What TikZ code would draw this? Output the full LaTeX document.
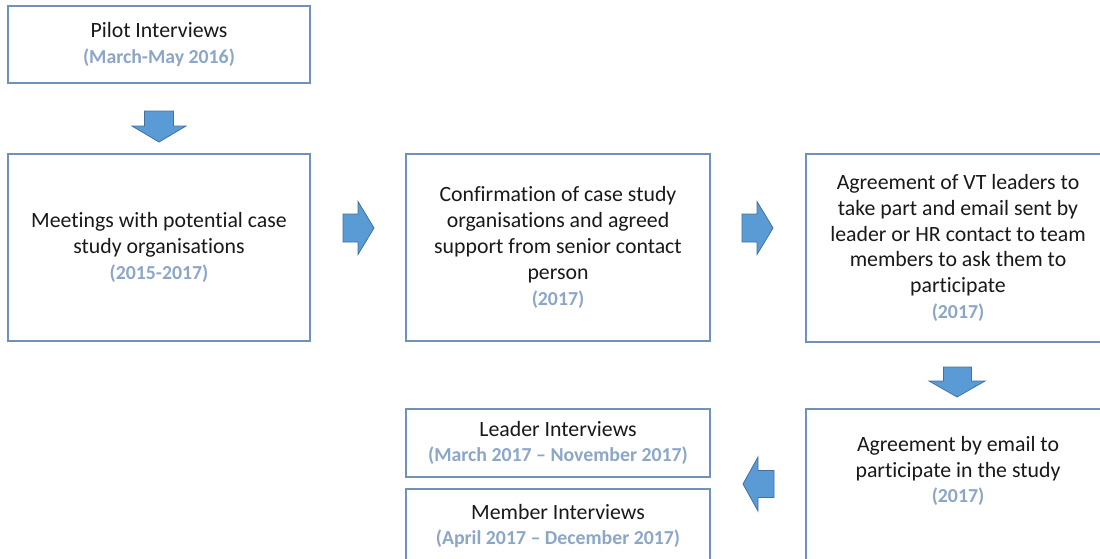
\documentclass[tikz,border=0pt]{standalone}
\usepackage{fontspec}
\setmainfont{Carlito}[Ligatures={NoCommon}]
\definecolor{boxblue}{RGB}{110,145,190}
\definecolor{datecol}{RGB}{140,166,200}
\definecolor{ink}{RGB}{25,25,25}
\definecolor{arrowfill}{RGB}{91,155,213}
\definecolor{arrowline}{RGB}{65,113,156}
\newcommand\dates[1]{{\fontsize{19.8}{25.8}\selectfont\bfseries\color{datecol}#1}}
\begin{document}
\begin{tikzpicture}[x=1pt,y=-1pt,
  box/.style={draw=boxblue, line width=1.3pt, fill=white, inner sep=0pt,
    align=center, text=ink, font=\fontsize{21.8}{25.8}\selectfont},
  boxtext/.style={align=center, text=ink, inner sep=0pt,
    font=\fontsize{21.8}{25.8}\selectfont},
  blockarrow/.style={fill=arrowfill, draw=arrowline, line width=0.8pt, line join=miter}]
\useasboundingbox (0,0) rectangle (1100,558);
\clip (0,0) rectangle (1100,558);

% stage boxes
\node[box, minimum width=302pt, minimum height=77pt] (pilot) at (159,44.5)
  {Pilot Interviews\\\dates{(March-May 2016)}};
\node[box, minimum width=302pt, minimum height=187pt] (meet) at (159,247.5)
  {Meetings with potential case\\study organisations\\\dates{(2015-2017)}};
\node[box, minimum width=304pt, minimum height=187pt] (confirm) at (558,247.5)
  {Confirmation of case study\\organisations and agreed\\support from senior contact\\person\\\dates{(2017)}};
\node[box, minimum width=304pt, minimum height=188pt] (leaders) at (958,248)
  {Agreement of VT leaders to\\take part and email sent by\\leader or HR contact to team\\members to ask them to\\participate\\\dates{(2017)}};
\node[box, minimum width=304pt, minimum height=211pt] (email) at (958,514.5) {};
\node[boxtext] (emailtxt) at (958,471)
  {Agreement by email to\\participate in the study\\\dates{(2017)}};
\node[box, minimum width=304pt, minimum height=68pt] (leader) at (558,443)
  {Leader Interviews\\\dates{(March 2017 -- November 2017)}};
\node[box, minimum width=304pt, minimum height=74pt] (member) at (558,526)
  {Member Interviews\\\dates{(April 2017 -- December 2017)}};

% block arrows between the stages
\draw[blockarrow] (144.5,111) -- (173.5,111) -- (173.5,126) -- (186,126)
  -- (159,142) -- (132,126) -- (144.5,126) -- cycle;
\draw[blockarrow] (343,214) -- (358,214) -- (358,201.5) -- (374,228)
  -- (358,254.5) -- (358,242) -- (343,242) -- cycle;
\draw[blockarrow] (742,214) -- (757,214) -- (757,201.5) -- (773,228)
  -- (757,254.5) -- (757,242) -- (742,242) -- cycle;
\draw[blockarrow] (943.5,367) -- (971.5,367) -- (971.5,381) -- (985,381)
  -- (957,397) -- (929,381) -- (943.5,381) -- cycle;
\draw[blockarrow] (774,470.5) -- (758,470.5) -- (758,457) -- (743,484)
  -- (758,511) -- (758,497.5) -- (774,497.5) -- cycle;
\end{tikzpicture}
\end{document}
